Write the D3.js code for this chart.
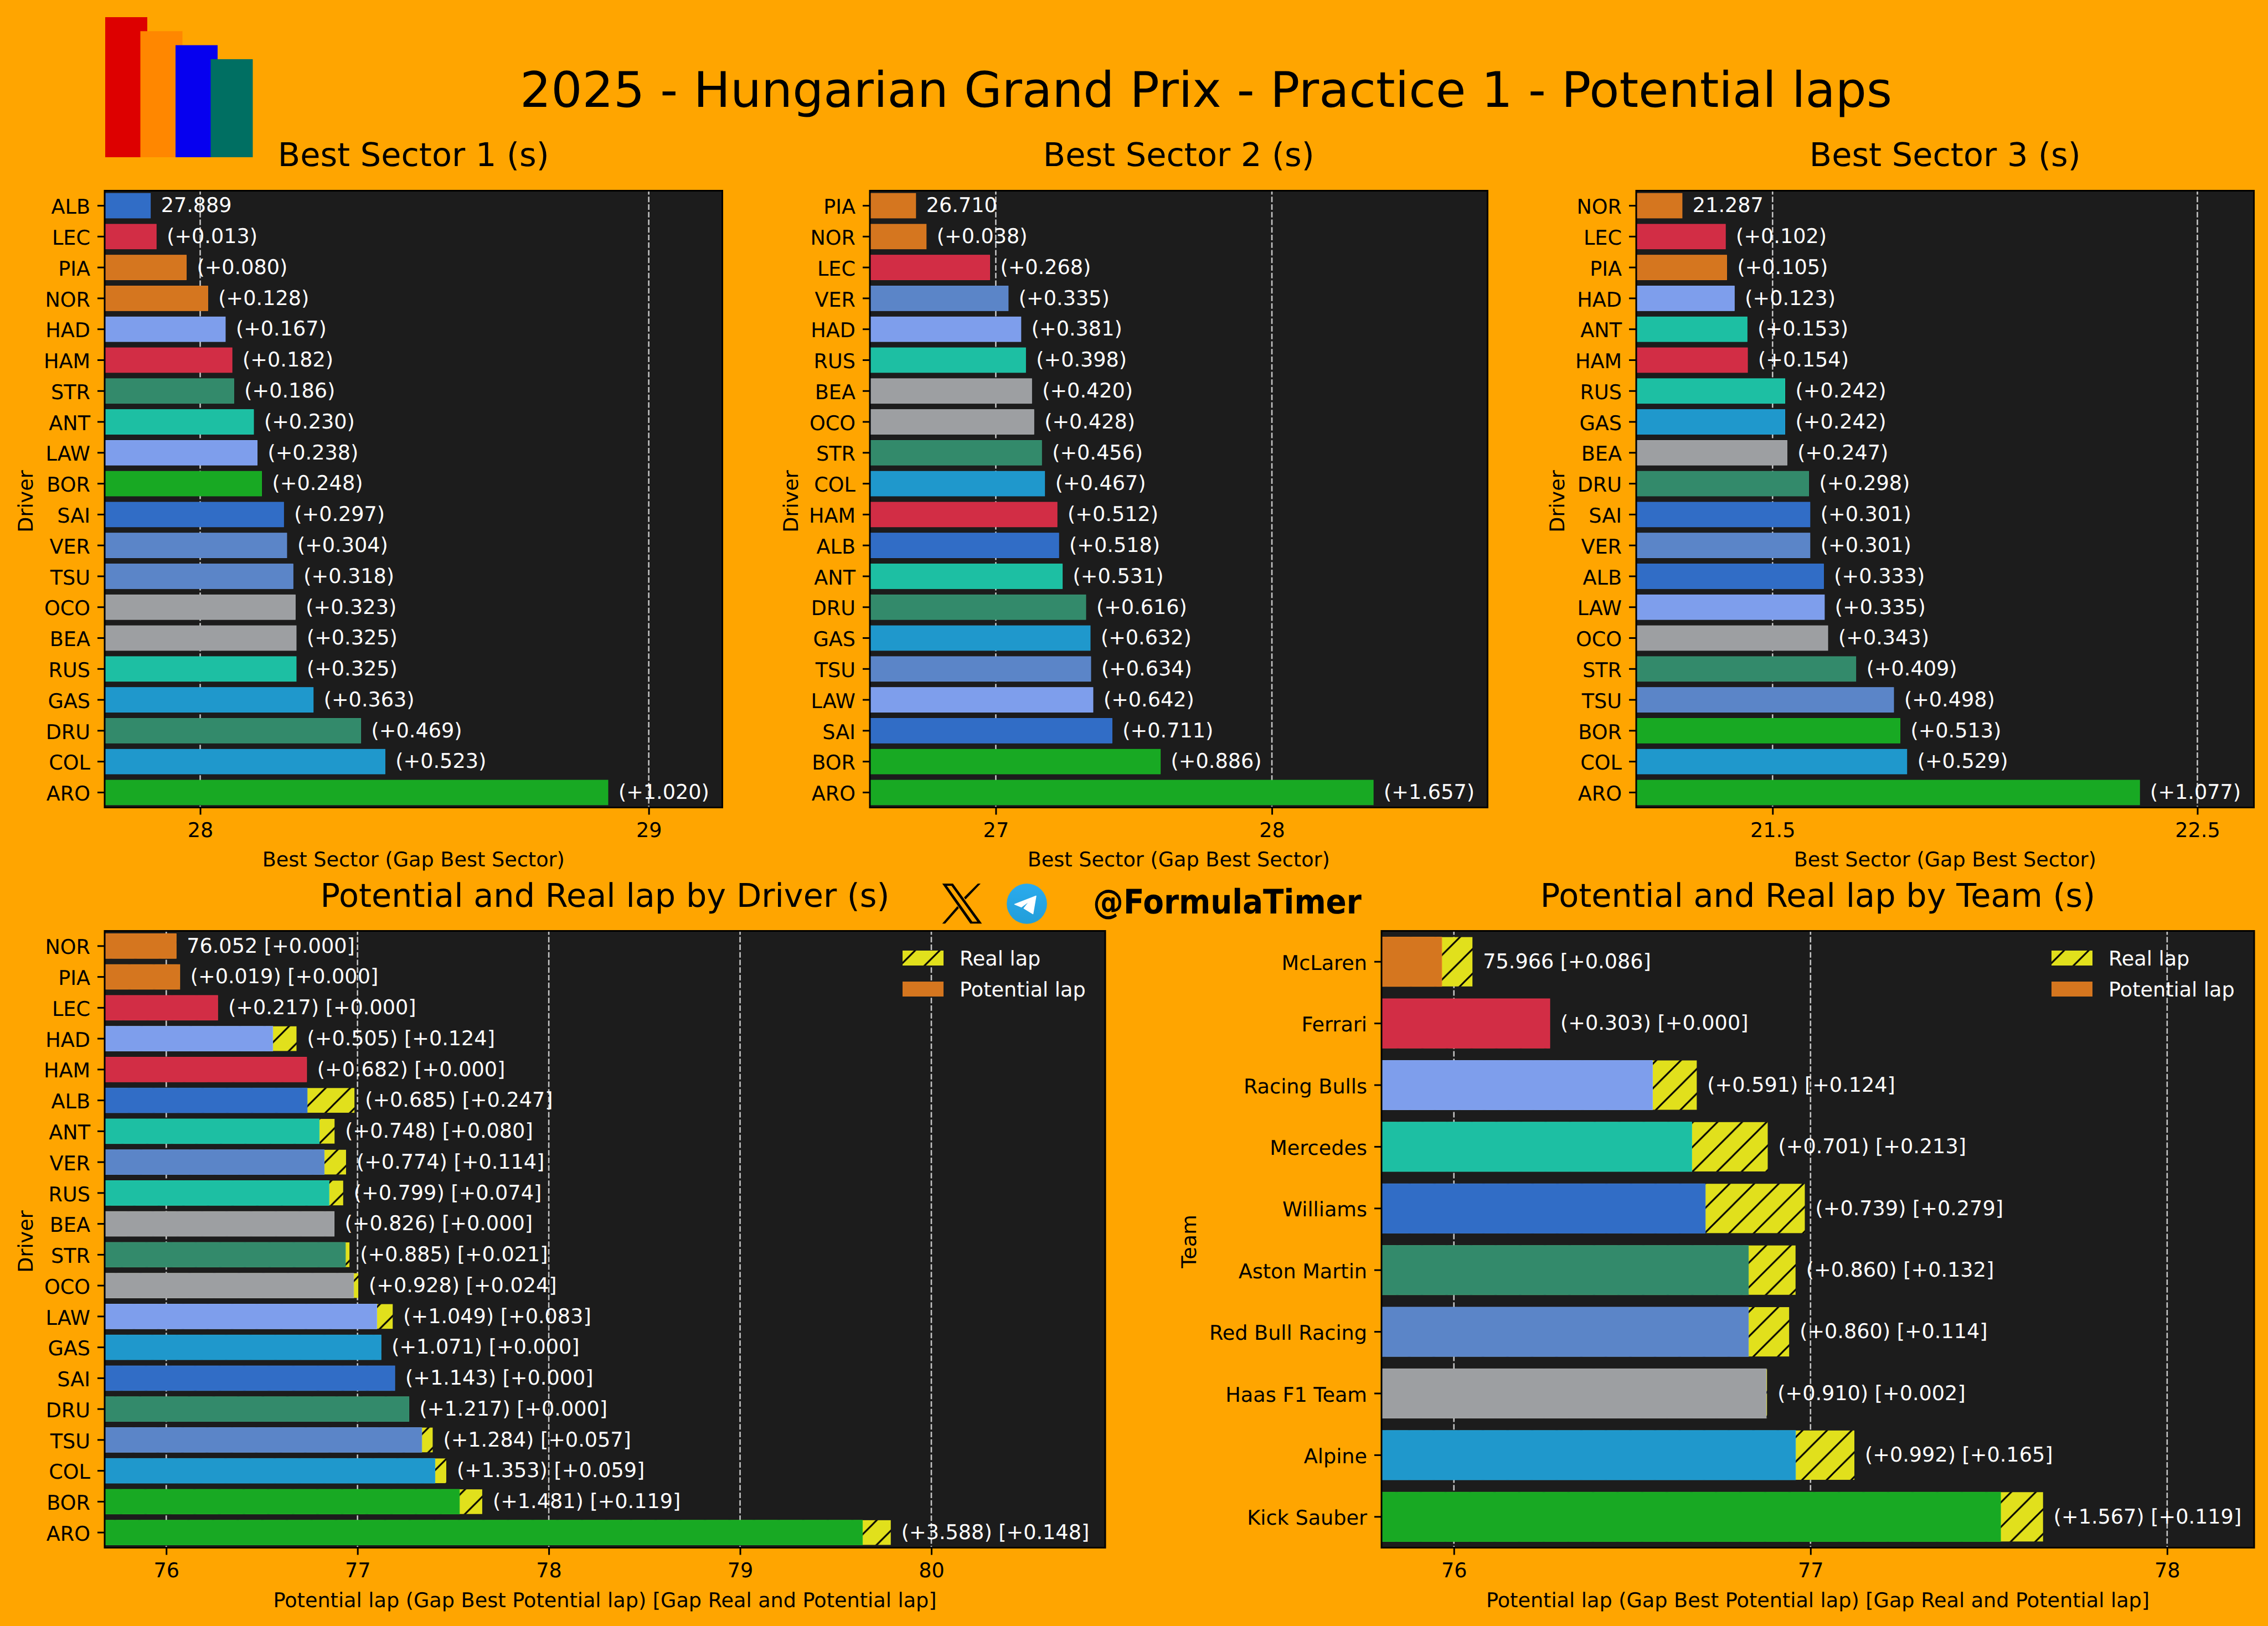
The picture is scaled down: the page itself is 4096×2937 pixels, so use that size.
<!DOCTYPE html>
<html lang='en'>
<head>
  <meta charset='UTF-8'>
  <title>2025 - Hungarian Grand Prix - Practice 1 - Potential laps</title>
  <script src="https://d3js.org/d3.v7.min.js"></script>
  <style>
    html, body { margin: 0; padding: 0; background: #ffa500; }
    svg { display: block; }
    text { font-family: 'DejaVu Sans', sans-serif; text-rendering: geometricPrecision; }
  </style>
</head>
<body>
  <div id="chart"></div>
  <script>
    // sector 1
    const s1Drivers = ['ALB', 'LEC', 'PIA', 'NOR', 'HAD', 'HAM', 'STR', 'ANT', 'LAW', 'BOR', 'SAI', 'VER', 'TSU', 'OCO', 'BEA', 'RUS', 'GAS', 'DRU', 'COL', 'ARO'];
    const s1Gaps = [0, 0.013, 0.080, 0.128, 0.167, 0.182, 0.186, 0.230, 0.238, 0.248, 0.297, 0.304, 0.318, 0.323, 0.325, 0.325, 0.363, 0.469, 0.523, 1.020];
    const s1Best = 27.889;
    const s1Domain = [27.787, 29.164];
    const s1Ticks = [28, 29];

    // sector 2
    const s2Drivers = ['PIA', 'NOR', 'LEC', 'VER', 'HAD', 'RUS', 'BEA', 'OCO', 'STR', 'COL', 'HAM', 'ALB', 'ANT', 'DRU', 'GAS', 'TSU', 'LAW', 'SAI', 'BOR', 'ARO'];
    const s2Gaps = [0, 0.038, 0.268, 0.335, 0.381, 0.398, 0.420, 0.428, 0.456, 0.467, 0.512, 0.518, 0.531, 0.616, 0.632, 0.634, 0.642, 0.711, 0.886, 1.657];
    const s2Best = 26.710;
    const s2Domain = [26.544, 28.781];
    const s2Ticks = [27, 28];

    // sector 3
    const s3Drivers = ['NOR', 'LEC', 'PIA', 'HAD', 'ANT', 'HAM', 'RUS', 'GAS', 'BEA', 'DRU', 'SAI', 'VER', 'ALB', 'LAW', 'OCO', 'STR', 'TSU', 'BOR', 'COL', 'ARO'];
    const s3Gaps = [0, 0.102, 0.105, 0.123, 0.153, 0.154, 0.242, 0.242, 0.247, 0.298, 0.301, 0.301, 0.333, 0.335, 0.343, 0.409, 0.498, 0.513, 0.529, 1.077];
    const s3Best = 21.287;
    const s3Domain = [21.179, 22.633];
    const s3Ticks = [21.5, 22.5];

    // laps by driver
    const lapDrivers = ['NOR', 'PIA', 'LEC', 'HAD', 'HAM', 'ALB', 'ANT', 'VER', 'RUS', 'BEA', 'STR', 'OCO', 'LAW', 'GAS', 'SAI', 'DRU', 'TSU', 'COL', 'BOR', 'ARO'];
    const lapGaps = [0, 0.019, 0.217, 0.505, 0.682, 0.685, 0.748, 0.774, 0.799, 0.826, 0.885, 0.928, 1.049, 1.071, 1.143, 1.217, 1.284, 1.353, 1.481, 3.588];
    const lapRealGaps = [0, 0, 0, 0.124, 0, 0.247, 0.080, 0.114, 0.074, 0, 0.021, 0.024, 0.083, 0, 0, 0, 0.057, 0.059, 0.119, 0.148];
    const lapBest = 76.052;
    const lapDomain = [75.678, 80.909];
    const lapTicks = [76, 77, 78, 79, 80];

    // laps by team
    const teams = ['McLaren', 'Ferrari', 'Racing Bulls', 'Mercedes', 'Williams', 'Aston Martin', 'Red Bull Racing', 'Haas F1 Team', 'Alpine', 'Kick Sauber'];
    const teamGaps = [0, 0.303, 0.591, 0.701, 0.739, 0.860, 0.860, 0.910, 0.992, 1.567];
    const teamRealGaps = [0.086, 0, 0.124, 0.213, 0.279, 0.132, 0.114, 0.002, 0.165, 0.119];
    const teamBest = 75.966;
    const teamDomain = [75.797, 78.244];
    const teamTicks = [76, 77, 78];

    const teamColors = {
      'McLaren': '#d5761f', 'Ferrari': '#d22d45', 'Racing Bulls': '#7e9eec', 'Mercedes': '#1dbfa3',
      'Williams': '#316dc6', 'Aston Martin': '#338a6b', 'Red Bull Racing': '#5b85c8',
      'Haas F1 Team': '#9d9fa2', 'Alpine': '#1f98cc', 'Kick Sauber': '#18a923',
    };
    const driverTeam = {
      NOR: 'McLaren', PIA: 'McLaren', LEC: 'Ferrari', HAM: 'Ferrari', HAD: 'Racing Bulls', LAW: 'Racing Bulls',
      ANT: 'Mercedes', RUS: 'Mercedes', ALB: 'Williams', SAI: 'Williams', STR: 'Aston Martin', DRU: 'Aston Martin',
      VER: 'Red Bull Racing', TSU: 'Red Bull Racing', BEA: 'Haas F1 Team', OCO: 'Haas F1 Team',
      GAS: 'Alpine', COL: 'Alpine', BOR: 'Kick Sauber', ARO: 'Kick Sauber',
    };
    const logoColors = ['#dd0000', '#ff8700', '#0600ef', '#006f62'];
    const logoHeights = [1, 0.9, 0.8, 0.7];

    const FONT = 36.6;
    const TITLE_FONT = 58.9;
    const REAL_COLOR = '#e1e01c';
    const HATCH = 44.4;
    const driverColor = (d) => teamColors[driverTeam[d]];
    const fmt = (v) => v.toFixed(3);

    const svg = d3.select('#chart').append('svg')
      .attr('width', 4096)
      .attr('height', 2937)
      .attr('viewBox', '0 0 4096 2937');

    svg.append('rect').attr('width', 4096).attr('height', 2937).attr('fill', '#ffa500');

    // hatch of the real lap bars
    const hatch = svg.append('defs').append('pattern')
      .attr('id', 'real-hatch')
      .attr('patternUnits', 'userSpaceOnUse')
      .attr('width', HATCH)
      .attr('height', HATCH)
      .attr('patternTransform', 'translate(22.5,0)');
    hatch.append('rect').attr('width', HATCH).attr('height', HATCH).attr('fill', REAL_COLOR);
    hatch.append('path')
      .attr('d', `M-5,${HATCH + 5}L${HATCH + 5},-5M-5,5L5,-5M${HATCH - 5},${HATCH + 5}L${HATCH + 5},${HATCH - 5}`)
      .attr('stroke', '#000')
      .attr('stroke-width', 3);

    function drawPanel({ left, right, top, bottom, domain, ticks, names, color, labels, values, realValues, title, titleY, xLabel, xLabelY, yLabel, yLabelX, outer, tickFormat }) {
      const x = d3.scaleLinear().domain(domain).range([left, right]);
      const y = d3.scaleBand().domain(names).range([top, bottom]).paddingInner(0.2).paddingOuter(outer);
      const g = svg.append('g');

      g.append('rect')
        .attr('x', left)
        .attr('y', top)
        .attr('width', right - left)
        .attr('height', bottom - top)
        .attr('fill', '#1c1c1c');

      // 縦のグリッド
      g.append('g').selectAll('line').data(ticks).join('line')
        .attr('x1', (d) => x(d))
        .attr('x2', (d) => x(d))
        .attr('y1', top)
        .attr('y2', bottom)
        .attr('stroke', '#c4c4c4')
        .attr('stroke-width', 2.6)
        .attr('stroke-dasharray', '10 3.75')
        .attr('stroke-dashoffset', 3);

      if (realValues) {
        g.append('g').selectAll('rect').data(names).join('rect')
          .attr('x', left)
          .attr('y', (d) => y(d))
          .attr('width', (d, i) => x(realValues[i]) - left)
          .attr('height', y.bandwidth())
          .attr('fill', 'url(#real-hatch)');
      }

      g.append('g').selectAll('rect').data(names).join('rect')
        .attr('x', left)
        .attr('y', (d) => y(d))
        .attr('width', (d, i) => x(values[i]) - left)
        .attr('height', y.bandwidth())
        .attr('fill', (d) => color(d))
        .attr('stroke', (d) => d3.color(color(d)).brighter(0.25))
        .attr('stroke-width', 1);

      g.append('g').selectAll('text').data(names).join('text')
        .attr('x', (d, i) => x((realValues || values)[i]) + 19)
        .attr('y', (d) => y(d) + y.bandwidth() / 2 + 11.8)
        .attr('font-size', FONT)
        .attr('fill', '#fff')
        .text((d, i) => labels[i]);

      const xAxis = d3.axisBottom(x).tickValues(ticks).tickSize(13).tickPadding(15).tickFormat(tickFormat);
      const yAxis = d3.axisLeft(y).tickSize(13).tickPadding(13);
      const ax = g.append('g').attr('transform', `translate(0,${bottom})`).call(xAxis);
      const ay = g.append('g').attr('transform', `translate(${left},0)`).call(yAxis);
      [ax, ay].forEach((a) => {
        a.select('.domain').remove();
        a.selectAll('line').attr('stroke', '#000').attr('stroke-width', 3);
        a.selectAll('text').attr('font-size', FONT).attr('font-family', null).attr('fill', '#000');
      });
      ay.selectAll('text').attr('dy', '0.4em');

      g.append('rect')
        .attr('x', left)
        .attr('y', top)
        .attr('width', right - left)
        .attr('height', bottom - top)
        .attr('fill', 'none')
        .attr('stroke', '#000')
        .attr('stroke-width', 3);

      g.append('text')
        .attr('x', (left + right) / 2)
        .attr('y', titleY)
        .attr('text-anchor', 'middle')
        .attr('font-size', TITLE_FONT)
        .attr('fill', '#000')
        .text(title);

      g.append('text')
        .attr('x', (left + right) / 2)
        .attr('y', xLabelY)
        .attr('text-anchor', 'middle')
        .attr('font-size', FONT)
        .attr('fill', '#000')
        .text(xLabel);

      g.append('text')
        .attr('transform', `translate(${yLabelX},${(top + bottom) / 2 + 4}) rotate(-90)`)
        .attr('text-anchor', 'middle')
        .attr('font-size', FONT)
        .attr('fill', '#000')
        .text(yLabel);

      return g;
    }

    function drawLegend(g, right, top) {
      const items = [['Real lap', 'url(#real-hatch)'], ['Potential lap', teamColors['McLaren']]];
      const row = g.append('g').selectAll('g').data(items).join('g')
        .attr('transform', (d, i) => `translate(${right - 366},${top + 36 + i * 56})`);
      row.append('rect').attr('width', 74).attr('height', 27).attr('fill', (d) => d[1]);
      row.append('text')
        .attr('x', 103)
        .attr('y', 27)
        .attr('font-size', FONT)
        .attr('fill', '#fff')
        .text((d) => d[0]);
    }

    function sectorPanel(left, title, names, gaps, best, domain, ticks, tickFormat) {
      drawPanel({
        left,
        right: left + 1115.5,
        top: 344.5,
        bottom: 1458.5,
        domain,
        ticks,
        names,
        color: driverColor,
        values: gaps.map((g) => best + g),
        labels: gaps.map((g, i) => (i === 0 ? fmt(best) : `(+${fmt(g)})`)),
        title,
        titleY: 299.5,
        xLabel: 'Best Sector (Gap Best Sector)',
        xLabelY: 1564.5,
        yLabel: 'Driver',
        yLabelX: left - 130,
        outer: 0.085,
        tickFormat,
      });
    }

    sectorPanel(189, 'Best Sector 1 (s)', s1Drivers, s1Gaps, s1Best, s1Domain, s1Ticks, d3.format('d'));
    sectorPanel(1571, 'Best Sector 2 (s)', s2Drivers, s2Gaps, s2Best, s2Domain, s2Ticks, d3.format('d'));
    sectorPanel(2955, 'Best Sector 3 (s)', s3Drivers, s3Gaps, s3Best, s3Domain, s3Ticks, d3.format('.1f'));

    const lapLabels = lapGaps.map((g, i) => `${i === 0 ? fmt(lapBest) : `(+${fmt(g)})`} [+${fmt(lapRealGaps[i])}]`);
    const lapPanel = drawPanel({
      left: 189,
      right: 1996,
      top: 1681.5,
      bottom: 2795.5,
      domain: lapDomain,
      ticks: lapTicks,
      names: lapDrivers,
      color: driverColor,
      values: lapGaps.map((g) => lapBest + g),
      realValues: lapGaps.map((g, i) => lapBest + g + lapRealGaps[i]),
      labels: lapLabels,
      title: 'Potential and Real lap by Driver (s)',
      titleY: 1638,
      xLabel: 'Potential lap (Gap Best Potential lap) [Gap Real and Potential lap]',
      xLabelY: 2902.5,
      yLabel: 'Driver',
      yLabelX: 59,
      outer: 0.09,
      tickFormat: d3.format('d'),
    });
    drawLegend(lapPanel, 1996, 1681);

    const teamLabels = teamGaps.map((g, i) => `${i === 0 ? fmt(teamBest) : `(+${fmt(g)})`} [+${fmt(teamRealGaps[i])}]`);
    const teamPanel = drawPanel({
      left: 2495,
      right: 4071,
      top: 1681.5,
      bottom: 2795.5,
      domain: teamDomain,
      ticks: teamTicks,
      names: teams,
      color: (d) => teamColors[d],
      values: teamGaps.map((g) => teamBest + g),
      realValues: teamGaps.map((g, i) => teamBest + g + teamRealGaps[i]),
      labels: teamLabels,
      title: 'Potential and Real lap by Team (s)',
      titleY: 1638,
      xLabel: 'Potential lap (Gap Best Potential lap) [Gap Real and Potential lap]',
      xLabelY: 2902.5,
      yLabel: 'Team',
      yLabelX: 2160,
      outer: 0.1,
      tickFormat: d3.format('d'),
    });
    drawLegend(teamPanel, 4071, 1681);

    // ロゴ
    const logoX = d3.scalePoint().domain(d3.range(logoColors.length)).range([190, 380.5]);
    const logoH = d3.scaleLinear().domain([0, 1]).range([0, 253]);
    svg.append('g').selectAll('rect').data(logoColors).join('rect')
      .attr('x', (d, i) => logoX(i))
      .attr('y', (d, i) => 284 - logoH(logoHeights[i]))
      .attr('width', 76)
      .attr('height', (d, i) => logoH(logoHeights[i]))
      .attr('fill', (d) => d);

    svg.append('text')
      .attr('x', 2178)
      .attr('y', 193)
      .attr('text-anchor', 'middle')
      .attr('font-size', 88.5)
      .attr('fill', '#000')
      .text('2025 - Hungarian Grand Prix - Practice 1 - Potential laps');

    // X icon
    svg.append('path')
      .attr('transform', 'translate(1695,1590) scale(0.3333)')
      .attr('fill', '#000')
      .attr('fill-rule', 'evenodd')
      .attr('d', 'M20,18L78,18L235,235L172,235ZM45,30L70,30L210,224L183,224ZM213,18L228,18L146,104L138,93ZM102,140L110,151L36,235L20,235Z');

    // telegram icon
    const grad = svg.select('defs').append('linearGradient')
      .attr('id', 'tg')
      .attr('x1', 0).attr('y1', 0).attr('x2', 0).attr('y2', 1);
    grad.append('stop').attr('offset', 0).attr('stop-color', '#2aabee');
    grad.append('stop').attr('offset', 1).attr('stop-color', '#229ed9');
    svg.append('circle')
      .attr('cx', 1854.5)
      .attr('cy', 1632.4)
      .attr('r', 36.4)
      .attr('fill', 'url(#tg)');
    svg.append('path')
      .attr('transform', 'translate(1854.5,1632.4)')
      .attr('fill', '#fff')
      .attr('stroke', '#fff')
      .attr('stroke-width', 1.5)
      .attr('stroke-linejoin', 'round')
      .attr('d', 'M16.5,-14L-22,1L-10,6L5.7,-5.7L-5.3,8.3L11,18.3Z');

    svg.append('text')
      .attr('transform', 'translate(1974,1650) scale(0.9,1)')
      .attr('font-size', 61)
      .attr('font-weight', 'bold')
      .attr('fill', '#000')
      .text('@FormulaTimer');
  </script>
</body>
</html>
